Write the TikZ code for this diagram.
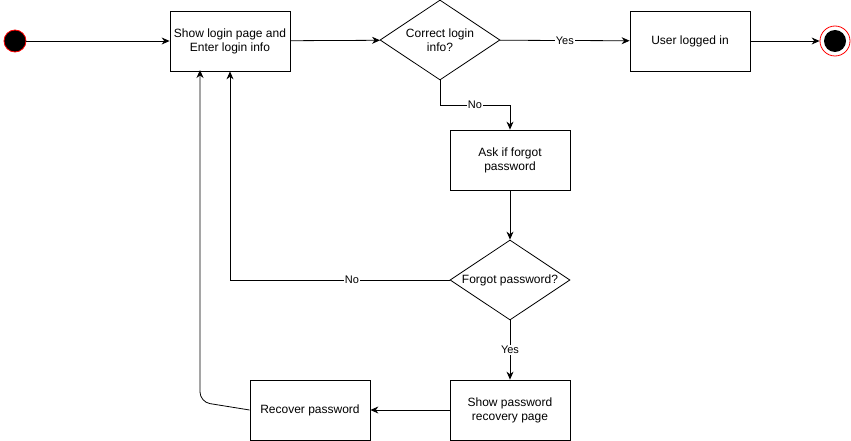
\documentclass[tikz,border=0pt]{standalone}
\usepackage{fontspec}
\setmainfont{Liberation Sans}
\usetikzlibrary{shapes.geometric,arrows.meta}
\begin{document}
\begin{tikzpicture}[x=1pt,y=-1pt,
  every node/.style={font=\fontsize{12}{14}\selectfont},
  procbox/.style={draw,line width=0.8pt,minimum width=120pt,minimum height=60pt,align=center,inner sep=0pt},
  decide/.style={draw,line width=0.8pt,diamond,minimum width=120pt,minimum height=80pt,aspect=1.5,align=center,inner sep=0pt},
  conn/.style={line width=0.8pt,-{Stealth[length=8pt,width=7pt]}},
  lbl/.style={fill=white,inner sep=1pt,font=\fontsize{11}{13}\selectfont}]
\useasboundingbox (0,0) rectangle (851,441);
\node[circle,fill=black,draw=red,line width=0.8pt,minimum size=22pt,inner sep=0pt] (start) at (15,41) {};
\node[procbox] (login) at (230,41) {Show login page and\\Enter login info};
\node[decide] (correct) at (440,40) {Correct login\\info?};
\node[procbox] (logged) at (690,41) {User logged in};
\node[circle,draw=red,line width=0.8pt,minimum size=30pt,inner sep=0pt] (endo) at (835,41) {};
\node[circle,fill=black,minimum size=22pt,inner sep=0pt] (endi) at (835,41) {};
\node[procbox] (ask) at (510,160) {Ask if forgot\\password};
\node[decide] (forgot) at (510,280) {Forgot password?};
\node[procbox] (showrec) at (510,410) {Show password\\recovery page};
\node[procbox] (recover) at (310,410) {Recover password};
\coordinate (bend) at (200,402);

\draw[conn] (start) -- (login);
\draw[conn] (login) -- (correct);
\draw[conn] (correct) -- node[lbl]{Yes} (logged);
\draw[conn] (logged) -- (endo);
\draw[conn] (correct.south) -- (440,105) -- node[lbl]{No} (510,105) -- (ask.north);
\draw[conn] (ask) -- (forgot);
\draw[conn] (forgot.west) -- node[lbl,pos=0.445]{No} (230,280) -- (login.south);
\draw[conn] (forgot.south) -- node[lbl]{Yes} (showrec.north);
\draw[conn] (showrec) -- (recover);
\draw[conn,rounded corners=10pt] (recover.west) -- (bend) -- (200,70);
\end{tikzpicture}
\end{document}
